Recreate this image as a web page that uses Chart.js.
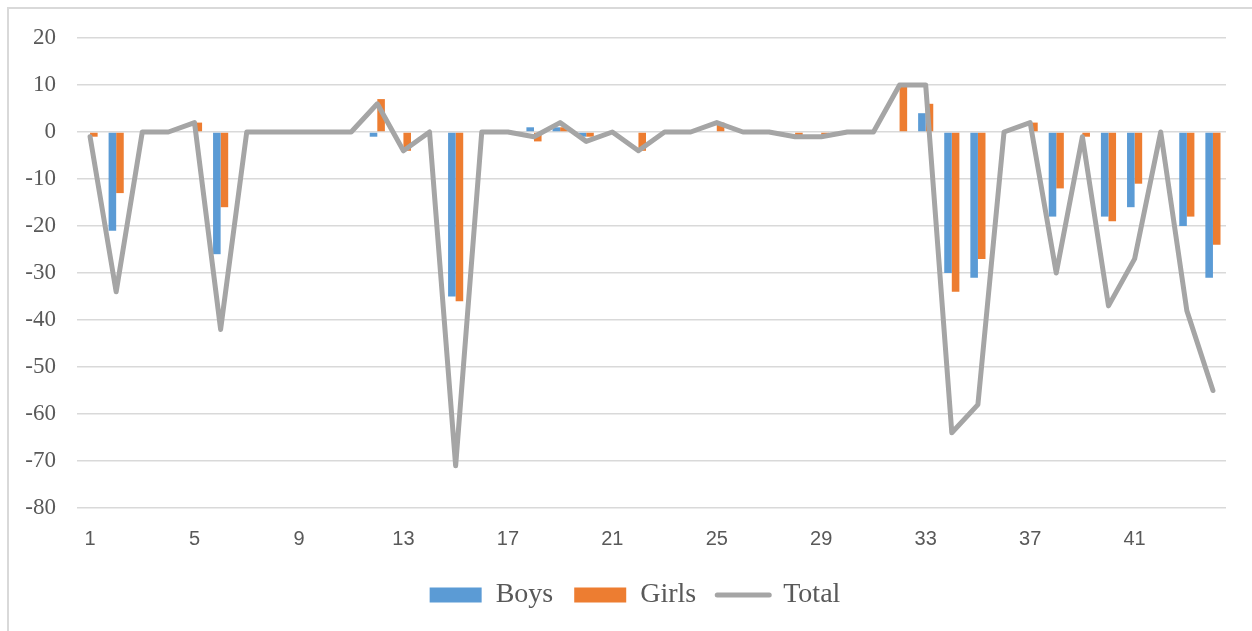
<!DOCTYPE html>
<html>
<head>
    <title>Boys / Girls / Total</title>
    <script src="https://cdn.jsdelivr.net/npm/chart.js"></script>
    <style>
        body { margin: 0; background: #fff; }
        #frame { position: absolute; left: 7px; top: 7px; width: 1400px; height: 800px;
                 border-left: 2px solid #d9d9d9; border-top: 2px solid #d9d9d9; }
        #wrap { position: absolute; left: 0; top: 0; width: 1252px; height: 631px; }
    </style>
</head>
<body>
    <div id="frame"></div>
    <div id="wrap"><canvas id="diffChart"></canvas></div>
</body>
<script>
    var categories = [];
    for (var i = 1; i <= 44; i++) categories.push(String(i));

    var boys = [0, -21, 0, 0, 0, -26, 0, 0, 0, 0, 0, -1, 0, 0, -35, 0, 0, 1, 1, -1, 0, 0,
                0, 0, 0, 0, 0, 0, 0, 0, 0, 0, 4, -30, -31, 0, 0, -18, 0, -18, -16, 0, -20, -31];
    var girls = [-1, -13, 0, 0, 2, -16, 0, 0, 0, 0, 0, 7, -4, 0, -36, 0, 0, -2, 1, -1, 0, -4,
                 0, 0, 2, 0, 0, -1, -1, 0, 0, 10, 6, -34, -27, 0, 2, -12, -1, -19, -11, 0, -18, -24];
    var total = [-1, -34, 0, 0, 2, -42, 0, 0, 0, 0, 0, 6, -4, 0, -71, 0, 0, -1, 2, -2, 0, -4,
                 0, 0, 2, 0, 0, -1, -1, 0, 0, 10, 10, -64, -58, 0, 2, -30, -1, -37, -27, 0, -38, -55];

    var textColor = '#595959';

    // nudge the legend to the right so its centre sits where the original one does
    var legendShift = {
        id: 'legendShift',
        afterLayout: function (chart) {
            chart.legend.left += 44;
        }
    };

    var ctx = document.getElementById('diffChart').getContext('2d');
    var diffChart = new Chart(ctx, {
        type: 'bar',
        data: {
            labels: categories,
            datasets: [{
                label: 'Boys',
                data: boys,
                backgroundColor: '#5b9bd5',
                borderWidth: 0,
                barPercentage: 1,
                categoryPercentage: 0.58,
                order: 1
            }, {
                label: 'Girls',
                data: girls,
                backgroundColor: '#ed7d31',
                borderWidth: 0,
                barPercentage: 1,
                categoryPercentage: 0.58,
                order: 2
            }, {
                type: 'line',
                label: 'Total',
                data: total,
                borderColor: '#a5a5a5',
                backgroundColor: '#a5a5a5',
                borderWidth: 5,
                borderJoinStyle: 'round',
                borderCapStyle: 'round',
                pointRadius: 0,
                tension: 0,
                order: 0
            }]
        },
        plugins: [legendShift],
        options: {
            responsive: true,
            maintainAspectRatio: false,
            animation: false,
            layout: { padding: { top: 38, right: 26, bottom: 12, left: 0 } },
            plugins: {
                tooltip: { enabled: false },
                legend: {
                    position: 'bottom',
                    labels: {
                        usePointStyle: true,
                        pointStyleWidth: 52,
                        boxHeight: 15,
                        padding: 21,
                        color: textColor,
                        font: { family: 'Liberation Serif', size: 28 },
                        sort: function (a, b) { return a.datasetIndex - b.datasetIndex; },
                        generateLabels: function (chart) {
                            var items = Chart.defaults.plugins.legend.labels.generateLabels(chart);
                            items.forEach(function (it) {
                                if (it.datasetIndex < 2) {
                                    it.pointStyle = 'rect';
                                    it.lineWidth = 0;
                                    it.strokeStyle = it.fillStyle;
                                } else {
                                    it.pointStyle = 'line';
                                    it.lineWidth = 5;
                                    it.lineCap = 'round';
                                }
                            });
                            return items;
                        }
                    }
                }
            },
            scales: {
                x: {
                    grid: { display: false, drawTicks: false },
                    border: { display: false },
                    ticks: {
                        autoSkip: false,
                        maxRotation: 0,
                        padding: 19,
                        color: textColor,
                        font: { family: 'Liberation Sans', size: 20 },
                        callback: function (val, i) {
                            return i % 4 === 0 ? this.getLabelForValue(val) : '';
                        }
                    },
                    afterFit: function (scale) { scale.height = 52; }
                },
                y: {
                    min: -80,
                    max: 20,
                    grid: { color: '#d9d9d9', lineWidth: 1.5, drawTicks: false },
                    border: { display: false },
                    ticks: {
                        stepSize: 10,
                        padding: 21,
                        color: textColor,
                        font: { family: 'Liberation Serif', size: 23 }
                    },
                    afterFit: function (scale) { scale.width = 77; }
                }
            }
        }
    });
</script>
</html>
